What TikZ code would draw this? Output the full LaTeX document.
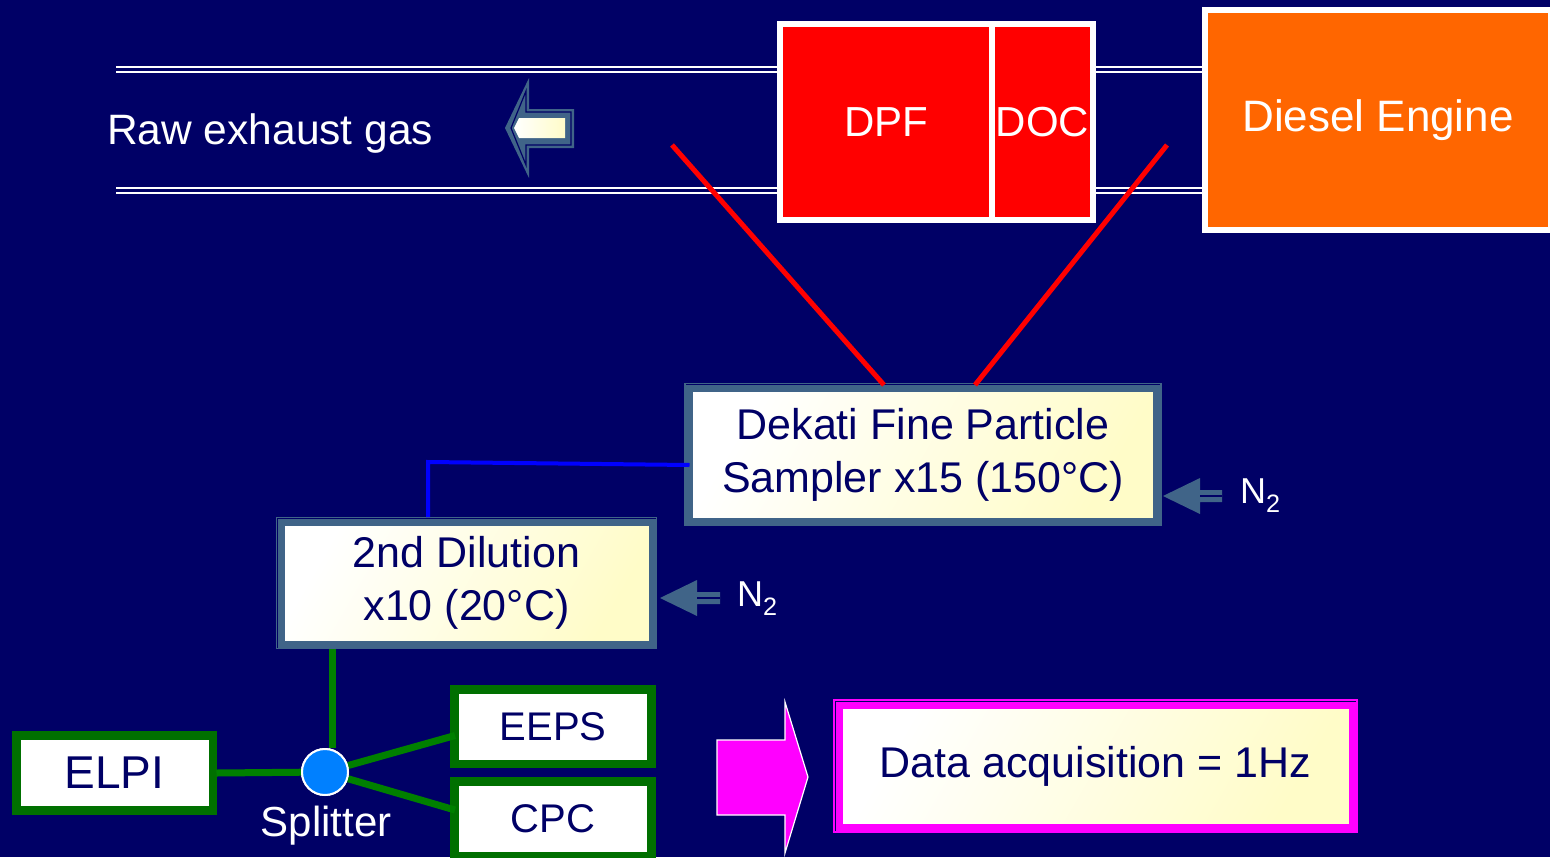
\documentclass[tikz,border=0pt]{standalone}
\usepackage{fontspec}
\setmainfont{Liberation Sans}
\usetikzlibrary{calc}
\definecolor{bg}{RGB}{0,0,102}
\definecolor{steel}{RGB}{64,100,136}
\definecolor{cream}{RGB}{255,252,200}
\definecolor{dkgreen}{RGB}{0,112,0}
\definecolor{lgreen}{RGB}{0,128,0}
\definecolor{orng}{RGB}{255,102,0}
\definecolor{splblue}{RGB}{0,128,255}
\definecolor{txtnavy}{RGB}{0,0,102}
\definecolor{magn}{RGB}{255,0,255}
\tikzset{
  big/.style={font=\fontsize{43}{53}\selectfont},
  small/.style={font=\fontsize{36}{42}\selectfont},
  proc/.style={rectangle, draw=steel, line width=7pt, left color=white, right color=cream, shading angle=60,
    text=txtnavy, inner sep=0pt, outer sep=0pt, align=center, big},
  inst/.style={rectangle, draw=dkgreen, line width=8pt, fill=white, text=txtnavy, inner sep=0pt, outer sep=0pt,
    minimum width=196pt, minimum height=74pt},
  catal/.style={rectangle, draw=white, line width=6pt, fill=red, text=white, inner sep=0pt, outer sep=0pt,
    minimum height=196pt, font=\fontsize{42}{52}\selectfont},
  pipe/.style={draw=white, line width=2pt},
  redl/.style={draw=red, line width=5pt},
  bluel/.style={draw=blue, line width=4pt},
  greenl/.style={draw=lgreen, line width=7pt},
  lbl/.style={text=white, inner sep=0pt},
}
\begin{document}
\begin{tikzpicture}[x=1pt,y=-1pt]
\fill[bg] (0,0) rectangle (1550,857);
\useasboundingbox (0,0) rectangle (1550,857);

% exhaust pipe
\draw[pipe] (116,67) -- (778,67);
\draw[pipe] (116,72) -- (778,72);
\draw[pipe] (116,188) -- (778,188);
\draw[pipe] (116,193) -- (778,193);
\draw[pipe] (1096,67) -- (1204,67);
\draw[pipe] (1096,72) -- (1204,72);
\draw[pipe] (1096,188) -- (1204,188);
\draw[pipe] (1096,193) -- (1204,193);

% catalysts and engine
\node[catal, minimum width=212pt] (dpf) at (886,122) {DPF};
\node[catal, minimum width=101pt] (doc) at (1042.5,122) {DOC};
\node[rectangle, draw=white, line width=6pt, fill=orng, text=white, inner sep=0pt, outer sep=0pt,
      minimum width=346pt, minimum height=220pt, font=\fontsize{44}{52}\selectfont] (eng) at (1378,120) {Diesel Engine};

% raw exhaust gas
\node[lbl, anchor=west, font=\fontsize{42.5}{52}\selectfont] (raw) at (107,134) {Raw exhaust gas};
\fill[steel] (505,128) -- (529,78) -- (529,109) -- (574,109) -- (574,148) -- (529,148) -- (529,178) -- cycle;
\draw[bg, line width=1.2pt] (511,128) -- (526,91) -- (526,112) -- (571,112) -- (571,145) -- (526,145) -- (526,165) -- cycle;
\shade[left color=white, right color=cream] (514,128) -- (519,118) -- (565,118) -- (565,138) -- (519,138) -- cycle;

% Dekati sampler
\node[proc, minimum width=467pt, minimum height=133pt] (dek) at (923,454.5) {Dekati Fine Particle\\Sampler x15 (150°C)};
\draw[steel, line width=1.5pt] ($(dek.north west)+(-4.5,-4.5)$) rectangle ($(dek.south east)+(4.5,4.5)$);

% sample lines
\coordinate (r1) at (672,145);
\coordinate (r2) at (1167,145);
\coordinate (rd1) at (884,0);
\coordinate (rd2) at (975,0);
\draw[redl] (r1) -- ($(rd1 |- dek.north)+(0,-3)$);
\draw[redl] (r2) -- ($(rd2 |- dek.north)+(0,-3)$);

% N2 into Dekati
\coordinate (n2a) at (1163,496);
\fill[steel] (n2a) -- (1200,478) -- (1200,490) -- (1222,490) -- (1222,502) -- (1200,502) -- (1200,514) -- cycle;
\draw[bg, line width=1.2pt] (1200,496) -- (1222,496);
\node[lbl, anchor=west, small] (n2t1) at (1240,496) {N\textsubscript{2}};

% 2nd dilution
\node[proc, minimum width=371pt, minimum height=122pt] (dil) at (466.5,583) {2nd Dilution\\x10 (20°C)};
\draw[steel, line width=1.5pt] ($(dil.north west)+(-4.5,-4.5)$) rectangle ($(dil.south east)+(4.5,4.5)$);

\coordinate (b1) at (428,462);
\coordinate (dk) at (0,465);
\draw[bluel] (dek.west |- dk) -- (b1) -- ($(b1 |- dil.north)+(0,-5)$);

% N2 into dilution
\coordinate (n2b) at (660,598);
\fill[steel] (n2b) -- (697,580) -- (697,592) -- (720,592) -- (720,604) -- (697,604) -- (697,616) -- cycle;
\draw[bg, line width=1.2pt] (697,598) -- (720,598);
\node[lbl, anchor=west, small] (n2t2) at (737,599) {N\textsubscript{2}};

% instruments
\node[inst, font=\fontsize{46}{52}\selectfont] (elpi) at (114.5,773) {ELPI};
\node[inst, font=\fontsize{40}{48}\selectfont] (eeps) at (553,726.5) {EEPS};
\node[inst, font=\fontsize{40}{48}\selectfont] (cpc) at (553,818.5) {CPC};
\foreach \n in {elpi,eeps,cpc}
  \draw[dkgreen, line width=1.5pt] ($(\n.north west)+(-4,-4)$) rectangle ($(\n.south east)+(4,4)$);

% splitter
\coordinate (gx) at (332,0);
\node[circle, fill=splblue, draw=white, line width=2pt, minimum size=46pt, inner sep=0pt] (spl) at (325,772) {};
\draw[greenl] ($(gx |- dil.south)+(0,5)$) -- (gx |- spl.north);
\draw[greenl] (spl) -- ($(elpi.east)+(4,0)$);
\draw[greenl] (spl) -- ([yshift=-9pt]eeps.west);
\draw[greenl] (spl) -- ([yshift=8.5pt]cpc.west);
\node[circle, fill=splblue, draw=white, line width=2pt, minimum size=46pt, inner sep=0pt] at (spl) {};
\node[lbl, font=\fontsize{42}{48}\selectfont] (splt) at (326,826) {Splitter};

% data acquisition
\fill[magn, draw=white, line width=1.2pt] (717,740) -- (785,740) -- (785,702) -- (808,777) -- (785,853) -- (785,815) -- (717,815) -- cycle;
\node[proc, draw=magn, minimum width=513pt, minimum height=122pt] (daq) at (1095.5,766) {Data acquisition = 1Hz};
\draw[magn, line width=1.5pt] ($(daq.north west)+(-5,-5)$) rectangle ($(daq.south east)+(5,5)$);
\end{tikzpicture}
\end{document}
